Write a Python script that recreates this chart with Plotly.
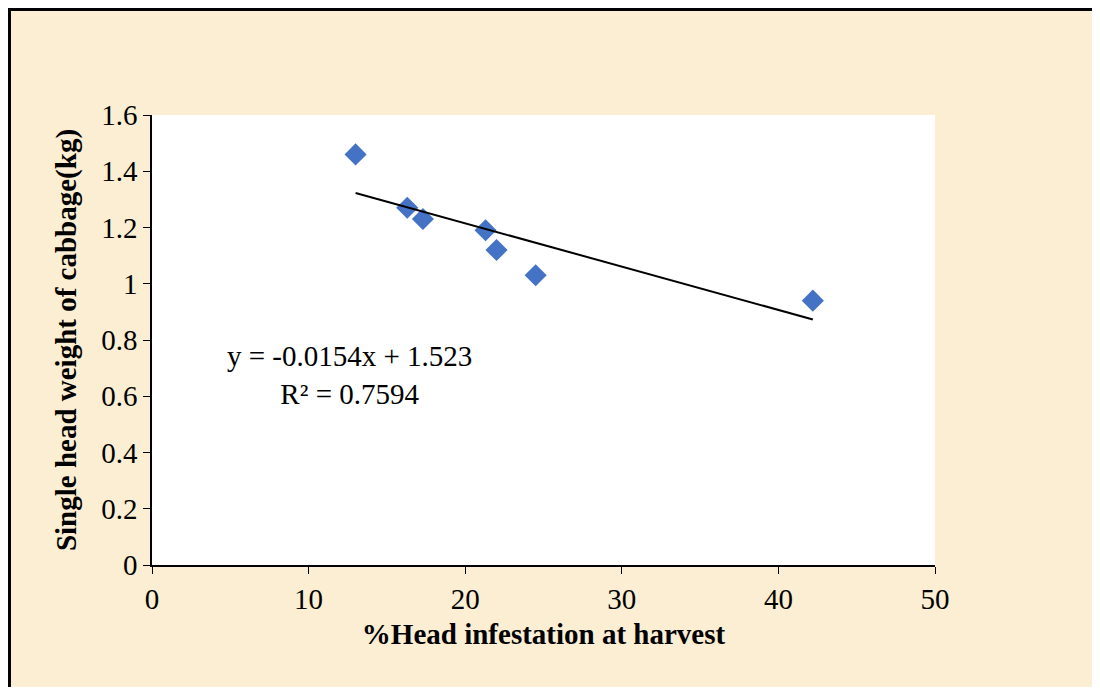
import plotly.graph_objects as go

# Data
infestation = [13.0, 16.3, 17.3, 21.3, 22.0, 24.5, 42.2]
head_weight = [1.46, 1.27, 1.23, 1.19, 1.12, 1.03, 0.94]
slope = -0.0154
intercept = 1.523
r_squared = 0.7594

x_ticks = [0, 10, 20, 30, 40, 50]
y_ticks = [0, 0.2, 0.4, 0.6, 0.8, 1.0, 1.2, 1.4, 1.6]

FONT = "Liberation Serif, Times New Roman, serif"
FS = 29

trend_x = [min(infestation), max(infestation)]
trend_y = [slope * v + intercept for v in trend_x]

fig = go.Figure()
fig.add_trace(go.Scatter(
    x=infestation, y=head_weight, mode="markers",
    marker=dict(symbol="diamond", size=17, color="#4472C4"),
    showlegend=False, hoverinfo="x+y"))
fig.add_trace(go.Scatter(
    x=trend_x, y=trend_y, mode="lines",
    line=dict(color="black", width=2),
    showlegend=False, hoverinfo="skip"))

fig.add_annotation(
    x=12.6, y=0.675, xref="x", yref="y",
    text=f"y = {slope}x + {intercept}<br>R² = {r_squared}",
    showarrow=False, align="center",
    font=dict(family=FONT, size=FS, color="black"))

# page has an 8px body margin; figure sized to fit the 1100x695 window
W, H = 1084, 679
L, T = 144, 107
R, B = W - 927, H - 557
pw, ph = W - L - R, H - T - B


def px(xf):
    return (xf - L) / pw


def py(yf):
    return (H - B - yf) / ph


# outer frame (top and left borders)
fig.add_shape(type="line", xref="paper", yref="paper",
              x0=px(0), x1=px(W), y0=py(1.5), y1=py(1.5),
              line=dict(color="black", width=3))
fig.add_shape(type="line", xref="paper", yref="paper",
              x0=px(1.5), x1=px(1.5), y0=py(0), y1=py(H),
              line=dict(color="black", width=3))

fig.update_layout(
    width=W, height=H,
    margin=dict(l=L, r=R, t=T, b=B),
    paper_bgcolor="#FBEED2",
    plot_bgcolor="white",
    font=dict(family=FONT, size=FS, color="black"),
    xaxis=dict(
        range=[0, 50], tickvals=x_ticks, showgrid=False, zeroline=False,
        showline=True, linecolor="black", linewidth=1.5,
        ticks="outside", ticklen=7, tickcolor="black",
        tickfont=dict(family=FONT, size=FS),
        title=dict(text="<b>%Head infestation at harvest</b>",
                   font=dict(family=FONT, size=FS), standoff=10)),
    yaxis=dict(
        range=[0, 1.6], tickvals=y_ticks, showgrid=False, zeroline=False,
        showline=True, linecolor="black", linewidth=1.5,
        ticks="outside", ticklen=7, tickcolor="black",
        tickfont=dict(family=FONT, size=FS),
        title=dict(text="<b>Single head weight of cabbage(kg)</b>",
                   font=dict(family=FONT, size=FS), standoff=16)),
)

fig.write_html("out.html")
